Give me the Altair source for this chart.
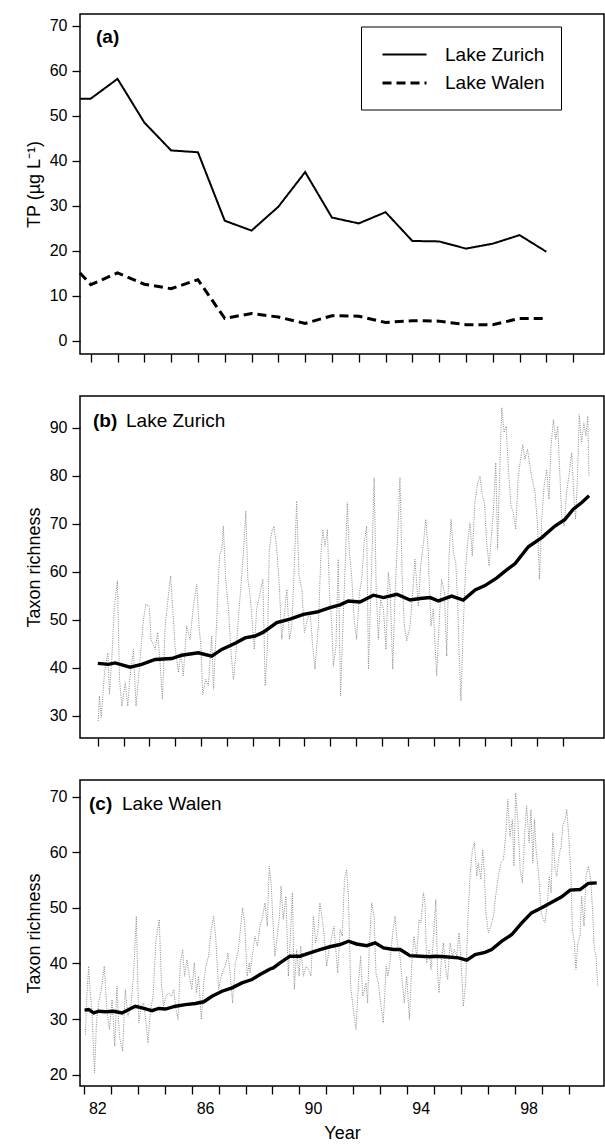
import altair as alt
import pandas as pd

FONT = "Liberation Sans"

# ---------------- Panel (a): total phosphorus ----------------
tp_years = [1981.6, 1982, 1983, 1984, 1985, 1986, 1987, 1988, 1989, 1990,
            1991, 1992, 1993, 1994, 1995, 1996, 1997, 1998, 1999]
tp_zurich = [53.8, 53.8, 58.2, 48.5, 42.3, 41.9, 26.7, 24.5, 29.8, 37.5,
             27.4, 26.1, 28.6, 22.2, 22.1, 20.5, 21.6, 23.5, 19.8]
tp_walen = [15.1, 12.5, 15.1, 12.6, 11.6, 13.6, 5.0, 6.1, 5.3, 3.9,
            5.6, 5.5, 4.1, 4.5, 4.4, 3.6, 3.6, 5.0, 5.0]
lakes = ["Lake Zurich", "Lake Walen"]

# ---------------- Panel (b): Lake Zurich taxon richness ----------------
zh_raw_years = [
    1982.02, 1982.06, 1982.13, 1982.26, 1982.39, 1982.45, 1982.54, 1982.64, 1982.76, 1982.84,
    1982.93, 1983.06, 1983.16, 1983.25, 1983.38, 1983.48, 1983.57, 1983.77, 1983.86, 1983.99,
    1984.06, 1984.22, 1984.32, 1984.41, 1984.50, 1984.61, 1984.73, 1984.82, 1984.90, 1984.99,
    1985.12, 1985.22, 1985.31, 1985.44, 1985.57, 1985.70, 1985.83, 1985.92, 1986.00, 1986.06,
    1986.18, 1986.28, 1986.41, 1986.48, 1986.61, 1986.71, 1986.80, 1986.86, 1986.95, 1987.06,
    1987.16, 1987.25, 1987.34, 1987.44, 1987.53, 1987.64, 1987.73, 1987.81, 1987.90, 1987.99,
    1988.06, 1988.15, 1988.28, 1988.39, 1988.48, 1988.57, 1988.64, 1988.73, 1988.82, 1988.93,
    1989.03, 1989.12, 1989.19, 1989.32, 1989.42, 1989.51, 1989.60, 1989.70, 1989.79, 1989.90,
    1990.00, 1990.12, 1990.22, 1990.32, 1990.41, 1990.54, 1990.63, 1990.71, 1990.80, 1990.89,
    1990.97, 1991.06, 1991.12, 1991.22, 1991.31, 1991.40, 1991.48, 1991.57, 1991.66, 1991.74,
    1991.83, 1991.92, 1992.02, 1992.13, 1992.22, 1992.31, 1992.41, 1992.48, 1992.57, 1992.63,
    1992.70, 1992.78, 1992.86, 1992.95, 1993.06, 1993.16, 1993.25, 1993.32, 1993.42, 1993.51,
    1993.60, 1993.70, 1993.79, 1993.87, 1993.96, 1994.09, 1994.19, 1994.28, 1994.41, 1994.50,
    1994.61, 1994.70, 1994.80, 1994.82, 1994.90, 1994.99, 1995.12, 1995.21, 1995.31, 1995.42,
    1995.51, 1995.60, 1995.68, 1995.77, 1995.86, 1995.94, 1995.99, 1996.06, 1996.15, 1996.24,
    1996.32, 1996.41, 1996.50, 1996.60, 1996.71, 1996.80, 1996.89, 1996.97, 1997.06, 1997.15,
    1997.23, 1997.32, 1997.41, 1997.48, 1997.53, 1997.64, 1997.73, 1997.81, 1997.90, 1998.00,
    1998.09, 1998.18, 1998.28, 1998.37, 1998.45, 1998.54, 1998.64, 1998.73, 1998.82, 1998.93,
    1999.03, 1999.10, 1999.19, 1999.28, 1999.38, 1999.47, 1999.55, 1999.64, 1999.73, 1999.81,
    1999.90, 1999.96, 2000.06, 2000.15, 2000.24, 2000.35, 2000.44, 2000.50, 2000.58, 2000.64,
    2000.73, 2000.82, 2000.90, 2000.97, 2001.02]
zh_raw_vals = [
    28.9, 34.1, 29.6, 39.0, 43.1, 34.4, 41.7, 52.8, 58.1, 37.6,
    32.0, 36.9, 32.0, 38.3, 43.8, 32.0, 37.6, 50.1, 53.2, 52.8,
    45.9, 43.8, 47.3, 41.0, 33.4, 48.7, 54.9, 59.1, 52.2, 44.5,
    39.0, 43.1, 38.3, 48.7, 45.9, 52.8, 57.4, 48.7, 43.8, 34.4,
    37.6, 36.2, 46.6, 35.5, 50.8, 63.3, 64.7, 69.5, 58.4, 52.2,
    43.1, 37.6, 42.4, 50.1, 56.3, 64.0, 72.6, 58.4, 54.9, 48.7,
    43.8, 52.2, 55.6, 58.4, 36.2, 44.5, 64.7, 68.1, 69.5, 64.7,
    57.0, 45.9, 49.4, 56.3, 45.9, 48.7, 59.8, 74.7, 59.1, 56.3,
    47.3, 50.1, 51.5, 44.5, 39.7, 48.7, 62.6, 68.8, 65.3, 68.8,
    55.6, 48.7, 40.3, 44.5, 62.6, 34.1, 47.3, 59.8, 74.4, 64.0,
    59.1, 50.1, 45.9, 55.6, 58.4, 66.0, 69.5, 39.7, 55.6, 66.0,
    79.6, 56.3, 45.9, 54.2, 52.2, 43.8, 59.8, 56.3, 39.7, 55.6,
    66.0, 79.6, 57.7, 48.7, 45.6, 48.7, 55.6, 62.6, 52.8, 61.2,
    66.0, 70.9, 64.0, 59.8, 48.7, 52.2, 38.3, 48.7, 58.4, 55.6,
    42.4, 63.3, 70.9, 64.0, 61.9, 52.8, 43.1, 33.1, 48.7, 60.5,
    66.0, 70.2, 63.3, 74.4, 78.5, 79.9, 75.8, 74.4, 66.0, 61.2,
    66.7, 73.0, 82.7, 64.7, 75.1, 94.2, 89.0, 90.3, 81.3, 73.7,
    72.3, 68.8, 79.9, 83.4, 86.5, 83.4, 85.5, 82.0, 79.2, 76.5,
    69.5, 58.4, 70.9, 77.8, 81.3, 75.1, 86.2, 91.7, 87.6, 90.3,
    79.2, 71.6, 69.5, 76.5, 79.9, 84.8, 75.1, 70.9, 80.6, 92.8,
    86.9, 91.0, 88.3, 92.4, 79.9]
zh_smooth_years = [
    1982.00, 1982.41, 1982.67, 1983.25, 1983.70, 1984.22, 1984.86, 1985.25, 1985.89, 1986.41,
    1986.80, 1987.32, 1987.70, 1988.09, 1988.41, 1988.93, 1989.44, 1989.96, 1990.48, 1990.99,
    1991.38, 1991.70, 1992.15, 1992.67, 1993.06, 1993.58, 1994.09, 1994.48, 1994.87, 1995.19,
    1995.70, 1996.15, 1996.61, 1996.99, 1997.45, 1997.77, 1998.16, 1998.67, 1999.19, 1999.70,
    2000.09, 2000.41, 2000.74, 2001.02]
zh_smooth_vals = [
    40.9, 40.7, 41.0, 40.1, 40.7, 41.7, 41.9, 42.6, 43.1, 42.4,
    43.8, 45.1, 46.2, 46.6, 47.4, 49.4, 50.1, 51.1, 51.6, 52.5,
    53.1, 53.9, 53.7, 55.1, 54.6, 55.3, 54.1, 54.4, 54.6, 53.9,
    54.9, 54.1, 56.2, 57.1, 58.7, 60.1, 61.7, 65.2, 67.1, 69.5,
    70.9, 73.0, 74.4, 75.8]

# ---------------- Panel (c): Lake Walen taxon richness ----------------
wa_raw_years = [
    1982.06, 1982.12, 1982.18, 1982.24, 1982.30, 1982.40, 1982.47, 1982.55, 1982.65, 1982.76,
    1982.86, 1982.95, 1983.05, 1983.15, 1983.23, 1983.32, 1983.44, 1983.54, 1983.64, 1983.76,
    1983.85, 1983.95, 1984.04, 1984.13, 1984.22, 1984.31, 1984.38, 1984.48, 1984.57, 1984.68,
    1984.80, 1984.88, 1984.96, 1985.05, 1985.15, 1985.25, 1985.34, 1985.42, 1985.50, 1985.58,
    1985.67, 1985.74, 1985.83, 1985.92, 1986.01, 1986.10, 1986.18, 1986.26, 1986.36, 1986.45,
    1986.53, 1986.63, 1986.73, 1986.82, 1986.90, 1987.00, 1987.10, 1987.19, 1987.28, 1987.35,
    1987.44, 1987.52, 1987.62, 1987.72, 1987.81, 1987.89, 1987.97, 1988.06, 1988.14, 1988.17,
    1988.27, 1988.35, 1988.44, 1988.54, 1988.64, 1988.72, 1988.81, 1988.88, 1988.95, 1989.01,
    1989.09, 1989.18, 1989.26, 1989.32, 1989.40, 1989.50, 1989.59, 1989.68, 1989.74, 1989.81,
    1989.90, 1989.99, 1990.05, 1990.15, 1990.25, 1990.33, 1990.43, 1990.52, 1990.60, 1990.68,
    1990.76, 1990.85, 1990.91, 1991.01, 1991.10, 1991.20, 1991.28, 1991.36, 1991.42, 1991.51,
    1991.59, 1991.67, 1991.75, 1991.82, 1991.90, 1992.00, 1992.10, 1992.19, 1992.27, 1992.35,
    1992.47, 1992.53, 1992.59, 1992.68, 1992.77, 1992.84, 1992.93, 1993.01, 1993.11, 1993.22,
    1993.28, 1993.36, 1993.46, 1993.55, 1993.63, 1993.73, 1993.82, 1993.89, 1993.98, 1994.08,
    1994.17, 1994.25, 1994.35, 1994.44, 1994.51, 1994.60, 1994.66, 1994.72, 1994.81, 1994.88,
    1994.97, 1995.06, 1995.13, 1995.18, 1995.26, 1995.34, 1995.43, 1995.50, 1995.59, 1995.68,
    1995.75, 1995.84, 1995.92, 1996.00, 1996.08, 1996.17, 1996.24, 1996.33, 1996.42, 1996.49,
    1996.58, 1996.64, 1996.73, 1996.80, 1996.86, 1996.92, 1997.01, 1997.10, 1997.20, 1997.28,
    1997.38, 1997.48, 1997.57, 1997.65, 1997.73, 1997.81, 1997.90, 1997.96, 1998.02, 1998.10,
    1998.19, 1998.27, 1998.37, 1998.43, 1998.52, 1998.59, 1998.66, 1998.72, 1998.78, 1998.87,
    1998.97, 1999.05, 1999.11, 1999.20, 1999.27, 1999.34, 1999.40, 1999.49, 1999.55, 1999.63,
    1999.71, 1999.77, 1999.86, 1999.92, 2000.00, 2000.07, 2000.13, 2000.20, 2000.26, 2000.33,
    2000.41, 2000.47, 2000.56, 2000.63, 2000.72, 2000.81, 2000.88, 2000.94, 2001.00, 2001.07]
wa_raw_vals = [
    27.2, 34.7, 39.5, 34.7, 31.7, 20.3, 29.3, 32.9, 35.3, 39.5,
    31.7, 28.1, 33.5, 25.1, 35.9, 26.9, 24.2, 35.3, 30.5, 32.9,
    38.3, 48.5, 29.3, 32.3, 32.9, 29.3, 25.7, 31.7, 34.1, 44.3,
    47.9, 36.5, 32.3, 34.1, 34.7, 34.1, 35.3, 31.7, 29.9, 40.1,
    42.5, 37.7, 40.7, 37.7, 35.3, 40.1, 34.7, 37.7, 29.9, 36.5,
    39.5, 41.3, 46.1, 48.5, 44.3, 35.3, 37.7, 38.9, 40.1, 41.9,
    37.7, 32.9, 40.1, 41.9, 46.1, 50.0, 47.3, 37.7, 40.1, 38.3,
    41.9, 44.9, 43.1, 46.7, 48.5, 50.9, 46.7, 57.5, 54.5, 48.5,
    41.3, 44.9, 48.5, 53.9, 47.9, 52.1, 37.7, 46.7, 52.7, 35.3,
    42.5, 37.7, 43.1, 37.7, 39.5, 38.9, 37.7, 48.5, 43.7, 45.5,
    50.9, 47.9, 45.5, 39.5, 42.5, 44.9, 46.7, 41.9, 38.3, 46.1,
    44.9, 55.1, 56.9, 52.1, 35.9, 31.7, 28.1, 36.5, 41.3, 34.1,
    36.5, 32.9, 42.5, 50.9, 48.5, 38.3, 36.5, 32.9, 29.3, 39.5,
    37.7, 40.1, 45.5, 48.5, 43.7, 41.3, 36.5, 32.9, 37.7, 29.9,
    40.1, 44.9, 41.3, 47.9, 47.3, 52.7, 50.9, 40.1, 42.5, 38.9,
    44.3, 51.5, 37.7, 34.7, 40.1, 43.7, 38.9, 37.1, 43.7, 41.3,
    42.5, 41.3, 45.5, 40.1, 32.3, 36.5, 46.7, 55.7, 60.5, 61.7,
    55.7, 58.1, 55.1, 60.5, 56.3, 49.1, 45.5, 46.7, 48.5, 52.1,
    55.7, 58.1, 58.7, 62.9, 69.5, 62.9, 65.9, 57.5, 70.7, 65.9,
    56.9, 54.5, 64.1, 68.3, 61.7, 67.7, 58.1, 65.9, 60.5, 56.3,
    49.1, 47.9, 47.3, 50.9, 55.7, 52.7, 63.5, 56.9, 55.7, 59.3,
    61.1, 64.7, 65.9, 67.7, 62.3, 56.3, 46.1, 43.7, 38.9, 43.7,
    44.9, 52.1, 46.7, 55.7, 57.5, 55.1, 49.1, 42.5, 41.3, 35.9]
wa_smooth_years = [
    1982.03, 1982.18, 1982.37, 1982.55, 1982.80, 1983.11, 1983.42, 1983.67, 1983.91, 1984.16,
    1984.53, 1984.78, 1985.03, 1985.40, 1985.77, 1986.14, 1986.45, 1986.76, 1987.13, 1987.50,
    1987.87, 1988.24, 1988.54, 1988.91, 1989.03, 1989.28, 1989.65, 1990.02, 1990.39, 1990.76,
    1991.13, 1991.51, 1991.82, 1992.12, 1992.50, 1992.81, 1993.12, 1993.49, 1993.74, 1994.10,
    1994.48, 1994.84, 1995.03, 1995.40, 1995.90, 1996.21, 1996.52, 1996.89, 1997.13, 1997.51,
    1997.88, 1998.25, 1998.61, 1998.99, 1999.36, 1999.73, 2000.04, 2000.41, 2000.72, 2001.03]
wa_smooth_vals = [
    31.6, 31.7, 31.1, 31.4, 31.3, 31.4, 31.1, 31.7, 32.3, 32.0,
    31.5, 31.9, 31.8, 32.3, 32.6, 32.8, 33.1, 34.1, 35.0, 35.6,
    36.5, 37.1, 38.0, 39.0, 39.2, 40.1, 41.3, 41.3, 41.9, 42.5,
    43.0, 43.4, 44.0, 43.5, 43.2, 43.7, 42.8, 42.5, 42.5, 41.4,
    41.3, 41.2, 41.3, 41.2, 41.0, 40.6, 41.6, 42.0, 42.5, 44.0,
    45.2, 47.3, 49.1, 50.0, 51.0, 52.0, 53.2, 53.3, 54.4, 54.5]

tick_years = list(range(1982, 2001))
W = 524

# ---------------- data frames ----------------
tp_df = pd.DataFrame({
    "year": tp_years * 2,
    "tp": tp_zurich + tp_walen,
    "lake": [lakes[0]] * len(tp_years) + [lakes[1]] * len(tp_years),
})
zh_raw = pd.DataFrame({"year": zh_raw_years, "rich": zh_raw_vals})
zh_sm = pd.DataFrame({"year": zh_smooth_years, "rich": zh_smooth_vals})
wa_raw = pd.DataFrame({"year": wa_raw_years, "rich": wa_raw_vals})
wa_sm = pd.DataFrame({"year": wa_smooth_years, "rich": wa_smooth_vals})


def xaxis(labels=False):
    if labels:
        return alt.Axis(values=tick_years, tickSize=8, labelFontSize=16, labelPadding=6,
                        labelOffset=13.5, labelFlush=False, labelOverlap=False, format="d",
                        labelExpr="datum.value % 4 == 2 ? substring(toString(datum.value), 2, 4) : ''",
                        title="Year", titleFontSize=18, titleFontWeight="normal", titlePadding=8)
    return alt.Axis(values=tick_years, tickSize=8, labels=False, title=None)


def yaxis(vals, title):
    return alt.Axis(values=vals, tickSize=8, labelFontSize=16, labelPadding=5,
                    title=title, titleFontSize=18, titleFontWeight="normal", titlePadding=6)


def label(txt_bold, txt_plain, xb, xp, y):
    df = pd.DataFrame({"t": [txt_bold]})
    parts = [alt.Chart(df).mark_text(align="left", baseline="alphabetic", fontSize=19,
                                     fontWeight="bold", color="black")
             .encode(x=alt.value(xb), y=alt.value(y), text="t:N")]
    if txt_plain:
        df2 = pd.DataFrame({"t": [txt_plain]})
        parts.append(alt.Chart(df2).mark_text(align="left", baseline="alphabetic", fontSize=19,
                                              color="black")
                     .encode(x=alt.value(xp), y=alt.value(y), text="t:N"))
    return parts


# ---------------- panel a ----------------
xa = alt.X("year:Q", scale=alt.Scale(domain=[1981.6, 2001.15], nice=False, zero=False), axis=xaxis())
ya = alt.Y("tp:Q", scale=alt.Scale(domain=[-2.9, 72.6], nice=False, zero=False),
           axis=yaxis(list(range(0, 80, 10)), "TP (µg L⁻¹)"))
lines_a = alt.Chart(tp_df).mark_line(color="black").encode(
    x=xa, y=ya,
    detail="lake:N",
    strokeDash=alt.StrokeDash("lake:N", scale=alt.Scale(domain=lakes, range=[[1, 0], [9, 5]]),
                              legend=alt.Legend(title=None, orient="none", legendX=281, legendY=12.5,
                                                symbolType="M-2,0L2,0", symbolSize=484,
                                                symbolStrokeWidth=2.5, symbolStrokeColor="black",
                                                labelFontSize=19, labelOffset=28, rowPadding=6,
                                                padding=16, symbolOffset=15,
                                                labelExpr="datum.label + '\u2002\u2002'",
                                                strokeColor="black", labelColor="black")),
    strokeWidth=alt.StrokeWidth("lake:N", scale=alt.Scale(domain=lakes, range=[2, 3]), legend=None),
)
panel_a = alt.layer(lines_a, *label("(a)", None, 16, 0, 29)).properties(width=W, height=340)

# ---------------- panel b ----------------
xb = alt.X("year:Q", scale=alt.Scale(domain=[1981.31, 2001.60], nice=False, zero=False), axis=xaxis())
yb = alt.Y("rich:Q", scale=alt.Scale(domain=[25.35, 96.6], nice=False, zero=False),
           axis=yaxis(list(range(30, 100, 10)), "Taxon richness"))
raw_b = alt.Chart(zh_raw).mark_line(color="#8a8a8a", strokeWidth=1, strokeDash=[1, 1.3]).encode(x=xb, y=yb)
sm_b = alt.Chart(zh_sm).mark_line(color="black", strokeWidth=3.4).encode(x=xb, y=yb)
panel_b = alt.layer(raw_b, sm_b, *label("(b)", "Lake Zurich", 13, 46, 31)).properties(width=W, height=342)

# ---------------- panel c ----------------
xc = alt.X("year:Q", scale=alt.Scale(domain=[1981.86, 2001.30], nice=False, zero=False), axis=xaxis(True))
yc = alt.Y("rich:Q", scale=alt.Scale(domain=[17.95, 73.0], nice=False, zero=False),
           axis=yaxis(list(range(20, 80, 10)), "Taxon richness"))
raw_c = alt.Chart(wa_raw).mark_line(color="#8a8a8a", strokeWidth=1, strokeDash=[1, 1.3]).encode(x=xc, y=yc)
sm_c = alt.Chart(wa_sm).mark_line(color="black", strokeWidth=3.4).encode(x=xc, y=yc)
panel_c = alt.layer(raw_c, sm_c, *label("(c)", "Lake Walen", 9, 42, 30)).properties(width=W, height=306)

chart = (
    alt.vconcat(panel_a, panel_b, panel_c, spacing=31)
    .resolve_scale(strokeDash="independent", strokeWidth="independent")
    .properties(padding={"top": 13, "left": 24, "right": 0, "bottom": 0})
    .configure(font=FONT)
    .configure_view(stroke="black", strokeWidth=1.5)
    .configure_axis(domain=False, grid=False, tickColor="black", tickWidth=1.3,
                    labelColor="black", titleColor="black", labelFont=FONT, titleFont=FONT)
)

chart.save("out.html", embed_options={"renderer": "svg", "actions": False})
